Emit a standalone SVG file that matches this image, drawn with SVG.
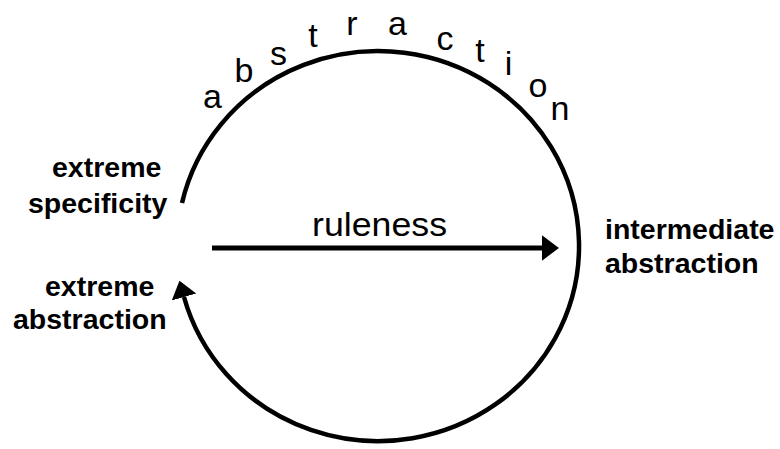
<svg xmlns="http://www.w3.org/2000/svg" width="780" height="449" viewBox="0 0 780 449">
<style>
.lbl{font-family:"Liberation Sans",Arial,sans-serif;font-weight:bold;font-size:28.5px;fill:#000}
.arc{font-family:"Liberation Sans",Arial,sans-serif;font-size:34px;fill:#000;text-anchor:middle}
.rule{font-family:"Liberation Sans",Arial,sans-serif;font-size:33px;fill:#000}
.ln{fill:none;stroke:#000}
</style>
<defs>
<marker id="ah" markerUnits="userSpaceOnUse" markerWidth="18" markerHeight="28" viewBox="0 -13 17 26" refX="0" refY="0" orient="auto">
<path d="M0,-12 L16,0 L0,12 Z" fill="#000"/>
</marker>
</defs>
<rect width="780" height="449" fill="#fff"/>
<g id="connectors">
<path id="cycle" class="ln" stroke-width="4.5" d="M182 203 A201 195 0 1 1 184 297" marker-end="url(#ah)"/>
<path id="ruleness-arrow" class="ln" stroke-width="5" d="M212 248 L542 248" marker-end="url(#ah)"/>
</g>
<g id="abstraction-label">
<text class="arc" x="212.5" y="108">a</text>
<text class="arc" x="244" y="82">b</text>
<text class="arc" x="278.5" y="65">s</text>
<text class="arc" x="313" y="47">t</text>
<text class="arc" x="352" y="35">r</text>
<text class="arc" x="397.5" y="35">a</text>
<text class="arc" x="445" y="50">c</text>
<text class="arc" x="480" y="62">t</text>
<text class="arc" x="508.5" y="75">i</text>
<text class="arc" x="538" y="97">o</text>
<text class="arc" x="560" y="120">n</text>
</g>
<g id="ruleness-label"><text class="rule" x="312" y="236" textLength="135" lengthAdjust="spacingAndGlyphs">ruleness</text></g>
<g id="extreme-specificity">
<text class="lbl" x="52" y="177">extreme</text>
<text class="lbl" x="28" y="213">specificity</text>
</g>
<g id="extreme-abstraction">
<text class="lbl" x="45" y="296">extreme</text>
<text class="lbl" x="13" y="329">abstraction</text>
</g>
<g id="intermediate-abstraction">
<text class="lbl" x="605" y="239">intermediate</text>
<text class="lbl" x="605" y="273">abstraction</text>
</g>
</svg>
